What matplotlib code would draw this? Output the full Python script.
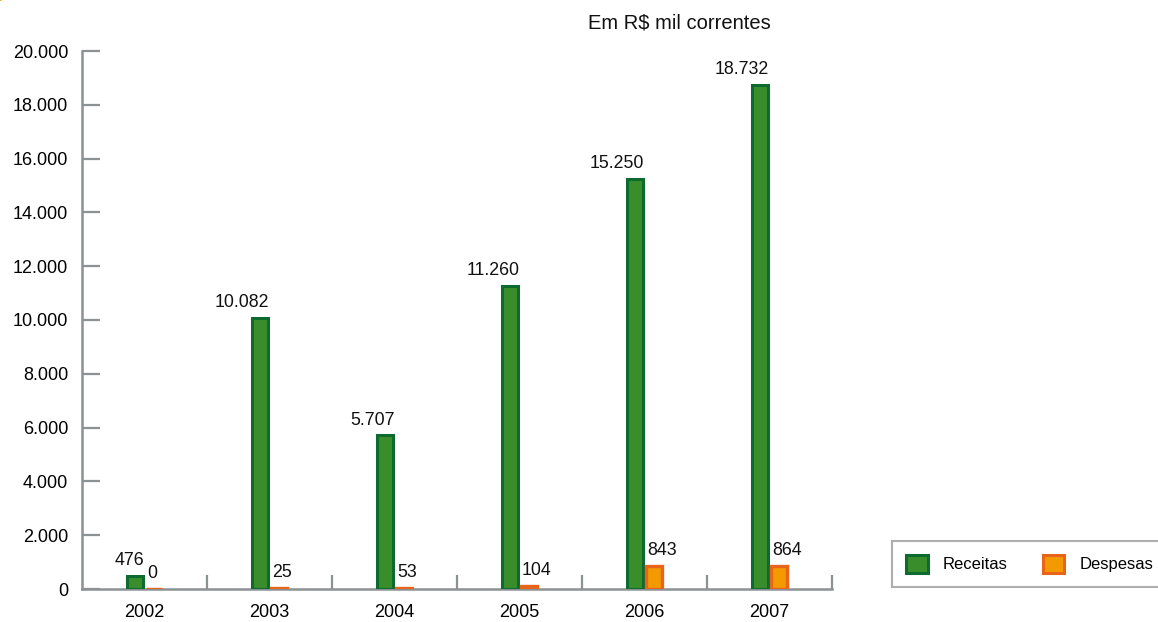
import matplotlib
matplotlib.use('Agg')
import matplotlib.pyplot as plt
from matplotlib.patches import Patch, Circle
import numpy as np

anos = ['2002', '2003', '2004', '2005', '2006', '2007']
receitas = [476, 10082, 5707, 11260, 15250, 18732]
despesas = [0, 25, 53, 104, 843, 864]
y_ticks = [0, 2000, 4000, 6000, 8000, 10000, 12000, 14000, 16000, 18000, 20000]

plt.rcParams['font.family'] = ['Liberation Sans', 'DejaVu Sans']

cinza = '#8c9194'
verde_borda, verde = '#0d6b2f', '#3a8d2b'
laranja_borda, laranja = '#e9641b', '#f39a00'


def fmt(v):
    return f'{v:,}'.replace(',', '.')


fig = plt.figure(figsize=(11.58, 6.22), dpi=100)
ax = fig.add_axes([82 / 1158, 1 - 589 / 622, 750 / 1158, 538 / 622])

x = np.arange(len(anos))
w = 0.13
off = 0.076
b1 = ax.bar(x - off, receitas, w, color=verde, edgecolor=verde_borda,
            linewidth=2.2, zorder=3)
b2 = ax.bar(x + off, despesas, w, color=laranja, edgecolor=laranja_borda,
            linewidth=2.4, zorder=3)

for bar, v in zip(b1, receitas):
    ax.annotate(fmt(v), (bar.get_x() + bar.get_width() + 0.01, v),
                xytext=(0, 5), textcoords='offset points',
                ha='right', va='bottom', fontsize=12.8, color='#111111')
for bar, v in zip(b2, despesas):
    ax.annotate(fmt(v), (bar.get_x() + 0.01, v),
                xytext=(0, 5), textcoords='offset points',
                ha='left', va='bottom', fontsize=12.8, color='#111111')

ax.set_xlim(-0.5, len(anos) - 0.5)
ax.set_ylim(0, 20000)
ax.set_yticks(y_ticks)
ax.set_yticklabels([fmt(t) for t in y_ticks])
ax.set_xticks(x)
ax.set_xticklabels(anos)

# divisórias entre os anos no eixo x
ax.set_xticks(np.arange(len(anos)) + 0.5, minor=True)
ax.tick_params(axis='x', which='major', length=0, pad=11, labelsize=13)
ax.tick_params(axis='x', which='minor', direction='in', length=10, width=1.6, color=cinza)
ax.tick_params(axis='y', direction='in', length=13, width=1.6, color=cinza, pad=10,
               labelsize=13)

for s in ['top', 'right']:
    ax.spines[s].set_visible(False)
for s in ['left', 'bottom']:
    ax.spines[s].set_color(cinza)
    ax.spines[s].set_linewidth(1.8)

fig.text(679 / 1158, 1 - 28 / 622, 'Em R$ mil correntes', ha='center', va='baseline',
         fontsize=14.5, color='#111111')

handles = [Patch(facecolor=verde, edgecolor=verde_borda, linewidth=2.2, label='Receitas'),
           Patch(facecolor=laranja, edgecolor=laranja_borda, linewidth=2.2, label='Despesas')]
leg = fig.legend(handles=handles, loc='lower left', ncol=2,
                 bbox_to_anchor=(892 / 1158, 1 - 587 / 622),
                 frameon=True, fancybox=False, fontsize=12,
                 handlelength=1.3, handleheight=1.3, handletextpad=0.9,
                 columnspacing=2.1, borderpad=0.85, borderaxespad=0)
leg.get_frame().set_edgecolor('#9a9a9a')
leg.get_frame().set_linewidth(1.5)

# marca laranja no canto
fig.patches.append(Circle((-2 / 1158, 1 + 2 / 622), 0.004, transform=fig.transFigure,
                          color='#f39a00', clip_on=False))

fig.savefig('out.png', dpi=100)
